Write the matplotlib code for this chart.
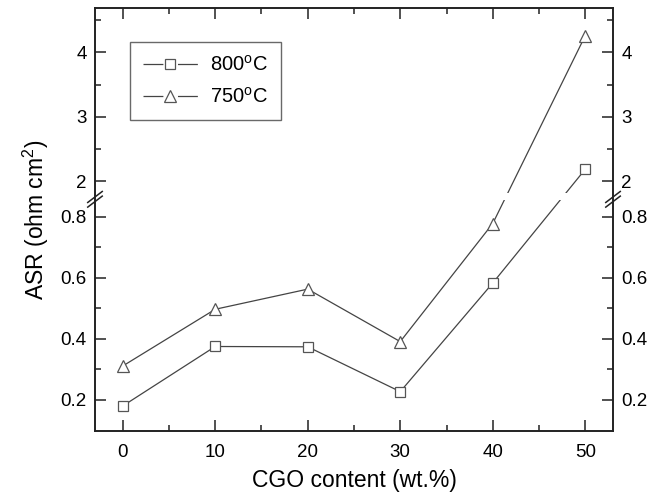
import numpy as np
import matplotlib
matplotlib.use("Agg")
import matplotlib.pyplot as plt
from matplotlib.lines import Line2D
from matplotlib.ticker import FixedLocator

plt.rcParams["font.family"] = ["Liberation Sans", "DejaVu Sans"]
plt.rcParams["mathtext.fontset"] = "custom"
plt.rcParams["mathtext.rm"] = "Liberation Sans"
plt.rcParams["mathtext.it"] = "Liberation Sans:italic"

# data
cgo = [0, 10, 20, 30, 40, 50]
asr_800 = [0.18, 0.375, 0.374, 0.227, 0.583, 2.19]
asr_750 = [0.311, 0.497, 0.563, 0.391, 0.778, 4.26]
labels = ["800$^{\\mathrm{o}}$C", "750$^{\\mathrm{o}}$C"]

# broken y axis: lower part linear up to LO_TOP, upper part compressed from HI_BOT
LO_TOP = 0.865
HI_BOT = 1.76
RATIO = 4.73


def fwd(y):
    y = np.asarray(y, dtype=float)
    return np.where(y <= LO_TOP, y,
                    np.where(y >= HI_BOT, LO_TOP + (y - HI_BOT) / RATIO, LO_TOP))


def inv(z):
    z = np.asarray(z, dtype=float)
    return np.where(z <= LO_TOP, z, HI_BOT + (z - LO_TOP) * RATIO)


fig = plt.figure(figsize=(6.61, 4.96), dpi=100)
ax = fig.add_axes([0.1437, 0.131, 0.7837, 0.853])
ax.set_yscale("function", functions=(fwd, inv))

line_c = "#444444"
lw = 0.9
sq = dict(marker="s", ms=6.5, mfc="white", mec="#555555", mew=0.9)
tri = dict(marker="^", ms=8.5, mfc="white", mec="#555555", mew=0.9)
ax.plot(cgo, asr_800, "-", color=line_c, lw=lw, zorder=2, **sq)
ax.plot(cgo, asr_750, "-", color=line_c, lw=lw, zorder=2, **tri)

ax.set_xlim(-3, 53)
ax.set_ylim(0.098, 4.69)

ax.xaxis.set_major_locator(FixedLocator([0, 10, 20, 30, 40, 50]))
ax.xaxis.set_minor_locator(FixedLocator([5, 15, 25, 35, 45]))
ax.yaxis.set_major_locator(FixedLocator([0.2, 0.4, 0.6, 0.8, 2, 3, 4]))
ax.yaxis.set_minor_locator(FixedLocator([0.3, 0.5, 0.7, 2.5, 3.5, 4.5]))
ax.yaxis.set_major_formatter(plt.FuncFormatter(lambda v, p: f"{v:g}"))
ax.yaxis.set_minor_formatter(plt.NullFormatter())

ax.tick_params(which="both", direction="in", top=True, right=True,
               labelright=True, labelsize=13.5, width=1.1, color="#222222")
ax.tick_params(which="major", length=8)
ax.tick_params(axis="y", which="major", pad=6)
ax.tick_params(axis="x", which="major", pad=9)
ax.tick_params(which="minor", length=4.5)
for s in ax.spines.values():
    s.set_linewidth(1.4)
    s.set_color("#222222")

# white band hides the lines at the break
ax.axhspan(0.854, 1.815, color="white", zorder=2.3, lw=0)

# break marks on both spines
fig.canvas.draw()
yb = ax.transAxes.inverted().transform(ax.transData.transform((0, LO_TOP)))[1]
for xs in (0.0, 1.0):
    for dy in (-0.011, 0.0):
        ax.plot([xs - 0.014, xs + 0.014], [yb + dy - 0.013, yb + dy + 0.013],
                transform=ax.transAxes, color="#222222", lw=1.1,
                clip_on=False, zorder=3)

ax.set_xlabel("CGO content (wt.%)", fontsize=16.5, labelpad=6)
ax.set_ylabel("ASR (ohm cm$^2$)", fontsize=16.5, labelpad=7)

# legend handles: short line, gap, marker, gap, short line
hl = 2.7 * 14.5
gap = 10.5
seg = (hl - gap) / 2
handles = [Line2D([], [], color=line_c, lw=lw, dashes=(seg / lw, gap / lw), **sq),
           Line2D([], [], color=line_c, lw=lw, dashes=(seg / lw, gap / lw), **tri)]
leg = ax.legend(handles, labels, loc="upper left", bbox_to_anchor=(0.068, 0.92),
                fontsize=14.5, frameon=True, fancybox=False, edgecolor="#444444",
                handlelength=2.7, handletextpad=0.6, borderpad=0.65,
                labelspacing=0.6, borderaxespad=0)
leg.get_frame().set_linewidth(1.0)

fig.savefig("out.png", dpi=100)
